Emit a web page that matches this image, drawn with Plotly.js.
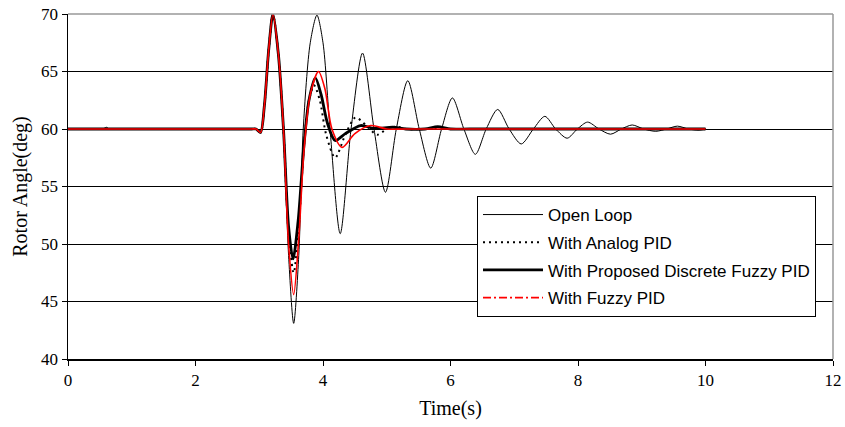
<!DOCTYPE html>
<html>
<head>
<meta charset="utf-8">
<script src="https://cdn.plot.ly/plotly-3.0.1.min.js"></script>
<style>html,body{margin:0;padding:0;background:#fff;}#chart{width:845px;height:427px;}</style>
</head>
<body>
<div id="chart"></div>
<script>
// Open loop
const tOpen = [0, 0.5, 0.55, 0.6, 0.65, 0.7, 2.5, 2.88, 2.95, 3.02, 3.08, 3.15, 3.215, 3.3, 3.38, 3.46, 3.54, 3.62, 3.69, 3.8, 3.905, 4.0, 4.11, 4.27, 4.44, 4.62, 4.8, 4.98, 5.15, 5.33, 5.51, 5.69, 5.86, 6.03, 6.21, 6.39, 6.56, 6.74, 6.92, 7.11, 7.3, 7.48, 7.65, 7.83, 7.99, 8.15, 8.33, 8.51, 8.68, 8.85, 9.03, 9.22, 9.39, 9.56, 9.73, 9.9, 10];
const yOpen = [60, 60, 60, 60.15, 60, 60, 60, 60, 60, 59.7, 62, 67, 70, 66.5, 60, 49, 43.1, 49, 60, 67.5, 69.9, 67.5, 60, 50.9, 60, 66.6, 60, 54.5, 60, 64.2, 60, 56.6, 60, 62.7, 60, 57.8, 60, 61.7, 60, 58.7, 60, 61.1, 60, 59.2, 60, 60.6, 60, 59.55, 60, 60.35, 60, 59.8, 60, 60.25, 60, 59.9, 60];
// With Analog PID
const tAnalog = [0, 2.5, 2.88, 2.95, 3.02, 3.08, 3.15, 3.215, 3.3, 3.38, 3.46, 3.54, 3.62, 3.7, 3.78, 3.86, 3.95, 4.05, 4.19, 4.35, 4.51, 4.68, 4.85, 5.0, 5.15, 5.3, 5.6, 9.5, 10];
const yAnalog = [60, 60, 60, 60, 59.7, 62, 67, 70, 66.5, 60, 51, 47.5, 51.5, 58.5, 62.5, 63.8, 62.5, 59.5, 57.5, 59.5, 61.0, 60.3, 59.5, 60, 60.2, 60, 60, 60, 60];
// With Proposed Discrete Fuzzy PID
const tProposed = [0, 2.5, 2.88, 2.95, 3.02, 3.08, 3.15, 3.215, 3.3, 3.38, 3.46, 3.53, 3.61, 3.7, 3.78, 3.88, 3.97, 4.07, 4.19, 4.35, 4.59, 4.8, 5.1, 5.3, 5.6, 5.8, 6.0, 6.3, 9.5, 10];
const yProposed = [60, 60, 60, 60, 59.7, 62, 67, 70, 66.5, 60, 51.5, 48.7, 52, 58.5, 62.5, 64.45, 63, 60.5, 59.0, 59.6, 60.3, 60.05, 60.15, 60, 60, 60.2, 60, 60, 60, 60];
// With Fuzzy PID
const tFuzzy = [0, 2.5, 2.88, 2.95, 3.02, 3.08, 3.15, 3.215, 3.3, 3.38, 3.46, 3.54, 3.62, 3.7, 3.8, 3.93, 4.03, 4.14, 4.3, 4.5, 4.75, 5.0, 5.3, 9.5, 10];
const yFuzzy = [60, 60, 60, 60, 59.7, 62, 67, 70, 66.5, 60, 50, 45.6, 50.5, 58, 63, 65.0, 63.5, 60, 58.4, 59.6, 60.3, 60, 60, 60, 60];

const seriesNames = ["Open Loop", "With Analog PID", "With Proposed Discrete Fuzzy PID", "With Fuzzy PID"];
const xTicks = [0, 2, 4, 6, 8, 10, 12];
const yTicks = [40, 45, 50, 55, 60, 65, 70];

const sp = {shape: 'spline', smoothing: 0.8};
const traces = [
  {x: tOpen, y: yOpen, name: seriesNames[0], mode: 'lines', legendgroup: 'a', legendrank: 1,
   line: Object.assign({color: '#000', width: 1}, sp)},
  {x: tAnalog, y: yAnalog, name: seriesNames[1], mode: 'lines', legendgroup: 'b', legendrank: 2,
   line: Object.assign({color: '#000', width: 2, dash: '2px,4px'}, sp)},
  {x: tProposed, y: yProposed, name: seriesNames[2], mode: 'lines', legendgroup: 'c', legendrank: 3,
   line: Object.assign({color: '#000', width: 2.8}, sp)},
  {x: tFuzzy, y: yFuzzy, name: seriesNames[3], mode: 'lines', showlegend: false,
   line: Object.assign({color: '#ff0000', width: 1.6}, sp)},
  {x: [null], y: [null], name: seriesNames[3], mode: 'lines', legendgroup: 'd', legendrank: 4,
   line: {color: '#ff0000', width: 1.6, dash: '8px,3px,2px,3px'}}
];

const serif = 'Liberation Serif, Times New Roman, serif';
const layout = {
  width: 845, height: 427,
  margin: {l: 68, r: 12, t: 14, b: 68},
  paper_bgcolor: '#fff', plot_bgcolor: '#fff',
  showlegend: true,
  legend: {
    x: (477 - 68) / 765, y: (359 - 196) / 345, xanchor: 'left', yanchor: 'top',
    bordercolor: '#000', borderwidth: 1, bgcolor: '#fff',
    font: {family: 'Liberation Sans, Arial, sans-serif', size: 17, color: '#000'},
    traceorder: 'grouped', tracegroupgap: 2.6, itemwidth: 60
  },
  xaxis: {
    range: [0, 12], tickvals: xTicks, ticktext: xTicks.map(String),
    showgrid: false, zeroline: false, showline: true, linecolor: '#000', linewidth: 1.5,
    ticks: 'outside', ticklen: 5, tickcolor: '#000', tickwidth: 1,
    tickfont: {family: serif, size: 17, color: '#000'},
    title: {text: 'Time(s)', font: {family: serif, size: 20, color: '#000'}, standoff: 12}
  },
  yaxis: {
    range: [40, 70], tickvals: yTicks, ticktext: yTicks.map(String),
    showgrid: true, gridcolor: '#000', gridwidth: 1,
    zeroline: false, showline: true, linecolor: '#000', linewidth: 1.5,
    ticks: 'outside', ticklen: 5, tickcolor: '#000', tickwidth: 1,
    tickfont: {family: serif, size: 17, color: '#000'},
    title: {text: 'Rotor Angle(deg)', font: {family: serif, size: 20, color: '#000'}, standoff: 8}
  },
  shapes: [
    {type: 'line', xref: 'paper', yref: 'paper', x0: 0, x1: 1, y0: 1, y1: 1, line: {color: '#999', width: 1.5}, layer: 'above'},
    {type: 'line', xref: 'paper', yref: 'paper', x0: 1, x1: 1, y0: 0, y1: 1, line: {color: '#999', width: 1.5}, layer: 'above'}
  ]
};

Plotly.newPlot('chart', traces, layout, {displayModeBar: false, staticPlot: true});
</script>
</body>
</html>
